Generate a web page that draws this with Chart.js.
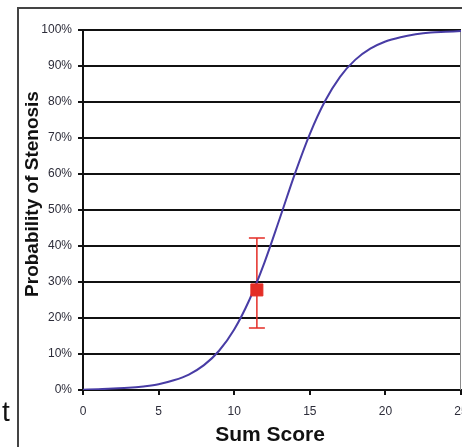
<!DOCTYPE html>
<html>
<head>
<meta charset="utf-8">
<script src="https://cdn.jsdelivr.net/npm/chart.js@4.4.0/dist/chart.umd.min.js"></script>
<style>
  html, body { margin: 0; padding: 0; background: #fff; }
  #wrap { width: 462px; height: 447px; }
</style>
</head>
<body>
<div id="wrap"><canvas id="myChart" width="462" height="447"></canvas></div>
<script>
// sum score on the x axis, probability (%)
const sumScores = [0, 1, 2, 3, 4, 5, 6, 7, 8, 9, 10, 11, 12, 13, 14, 15, 16, 17, 18, 19, 20, 21, 22, 23, 24, 25];
const probability = [0.1, 0.2, 0.4, 0.6, 1.0, 1.6, 2.7, 4.3, 6.9, 10.9, 16.8, 25.0, 35.4, 47.5, 59.9, 71.1, 80.2, 87.0, 91.7, 94.8, 96.8, 98.0, 98.8, 99.3, 99.5, 99.7];

// observed group (red square with error bar)
const observedScore = [11.5];
const observedProb = [27.8];
const observedLow = [17.2];
const observedHigh = [42.2];

const yTicks = [0, 10, 20, 30, 40, 50, 60, 70, 80, 90, 100];
const xTicks = [0, 5, 10, 15, 20, 25];

const font = "'Liberation Sans', Arial, sans-serif";

// outer frame, right border, axis titles, error bar
const decor = {
  id: 'decor',
  beforeDraw(chart) {
    const ctx = chart.ctx;
    ctx.save();
    ctx.strokeStyle = '#444';
    ctx.lineWidth = 2;
    ctx.beginPath();
    ctx.moveTo(18, 447);
    ctx.lineTo(18, 8);
    ctx.lineTo(462, 8);
    ctx.stroke();
    ctx.restore();
  },
  beforeDatasetsDraw(chart) {
    const ctx = chart.ctx;
    const { x, y } = chart.scales;
    const area = chart.chartArea;
    ctx.save();
    ctx.strokeStyle = '#8a8a8a';
    ctx.lineWidth = 1;
    ctx.beginPath();
    ctx.moveTo(area.right - 0.5, area.top);
    ctx.lineTo(area.right - 0.5, area.bottom);
    ctx.stroke();

    ctx.strokeStyle = 'rgb(228,45,38)';
    ctx.lineWidth = 1.5;
    observedScore.forEach((s, i) => {
      const px = x.getPixelForValue(s);
      const top = y.getPixelForValue(observedHigh[i]);
      const bot = y.getPixelForValue(observedLow[i]);
      ctx.beginPath();
      ctx.moveTo(px, top);
      ctx.lineTo(px, bot);
      ctx.moveTo(px - 8, top);
      ctx.lineTo(px + 8, top);
      ctx.moveTo(px - 8, bot);
      ctx.lineTo(px + 8, bot);
      ctx.stroke();
    });
    ctx.restore();
  },
  afterDraw(chart) {
    const ctx = chart.ctx;
    ctx.save();
    ctx.fillStyle = '#111';
    ctx.font = 'bold 19px ' + font;
    ctx.textAlign = 'center';
    ctx.textBaseline = 'alphabetic';
    ctx.translate(38, 194);
    ctx.rotate(-Math.PI / 2);
    ctx.fillText('Probability of Stenosis', 0, 0);
    ctx.restore();

    ctx.save();
    ctx.fillStyle = '#111';
    ctx.font = 'bold 21px ' + font;
    ctx.textAlign = 'center';
    ctx.textBaseline = 'alphabetic';
    ctx.fillText('Sum Score', 270, 441);
    ctx.font = '28px ' + font;
    ctx.textAlign = 'left';
    ctx.fillText('t', 2, 421);
    ctx.restore();
  }
};

new Chart(document.getElementById('myChart').getContext('2d'), {
  type: 'scatter',
  data: {
    datasets: [
      {
        label: 'Observed',
        data: observedScore.map((s, i) => ({ x: s, y: observedProb[i] })),
        backgroundColor: 'rgb(228,45,38)',
        borderColor: 'rgb(228,45,38)',
        pointStyle: 'rect',
        pointRadius: 8.5,
        order: 0
      },
      {
        label: 'Probability',
        data: sumScores.map((s, i) => ({ x: s, y: probability[i] })),
        showLine: true,
        borderColor: 'rgb(72,60,165)',
        borderWidth: 2,
        pointRadius: 0,
        cubicInterpolationMode: 'monotone',
        order: 1
      }
    ]
  },
  options: {
    responsive: false,
    animation: false,
    events: [],
    layout: { autoPadding: false, padding: { top: 30, right: 1, left: 0, bottom: 0 } },
    plugins: { legend: { display: false }, tooltip: { enabled: false } },
    scales: {
      x: {
        type: 'linear',
        min: 0,
        max: 25,
        afterBuildTicks: (axis) => { axis.ticks = xTicks.map(v => ({ value: v })); },
        afterFit: (axis) => { axis.height = 57; axis.paddingLeft = 0; axis.paddingRight = 0; },
        grid: { drawOnChartArea: false, drawTicks: true, tickLength: 5, color: '#111', lineWidth: 2 },
        border: { color: '#111', width: 2 },
        ticks: { padding: 9, color: '#2d2d3a', font: { family: font, size: 12 }, maxRotation: 0 }
      },
      y: {
        min: 0,
        max: 100,
        afterBuildTicks: (axis) => { axis.ticks = yTicks.map(v => ({ value: v })); },
        afterFit: (axis) => { axis.width = 83; axis.paddingTop = 0; axis.paddingBottom = 0; },
        grid: { color: '#111', lineWidth: 2, tickLength: 5 },
        border: { color: '#111', width: 2 },
        ticks: {
          padding: 6,
          color: '#2d2d3a',
          font: { family: font, size: 12 },
          callback: (value) => value + '%'
        }
      }
    }
  },
  plugins: [decor]
});
</script>
</body>
</html>
